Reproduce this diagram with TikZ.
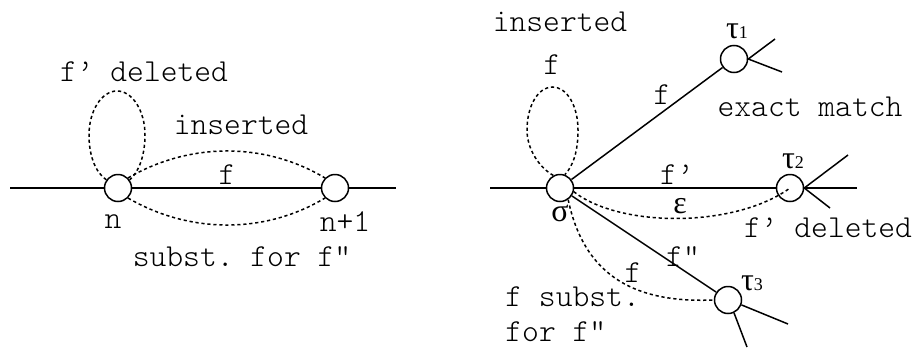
\documentclass[tikz,border=0pt]{standalone}
\usepackage{fontspec}
\usepackage{tikz}
\setmonofont{Latin Modern Mono Light}
\newfontfamily\greekfont{Liberation Serif}
\tikzset{
  vtx/.style={circle, draw, line width=.75pt, minimum size=13.5pt, inner sep=0pt},
  lbl/.style={font=\ttfamily\fontsize{16}{17.5}\selectfont, inner sep=0pt},
  grk/.style={font=\greekfont\fontsize{16}{18}\selectfont, inner sep=0pt},
  edge/.style={line width=.75pt},
  alt/.style={line width=.75pt, dash pattern=on 1.6pt off 1.4pt}
}
\newcommand{\idx}[1]{{\fontsize{9}{10}\selectfont #1}}

\begin{document}
\begin{tikzpicture}[x=.5pt,y=-.5pt]
\useasboundingbox (0,0) rectangle (913,348);
% left: one position n -> n+1
\node[vtx] (n) at (118,188) {};
\node[vtx] (n1) at (335,188) {};
\coordinate (la) at (10,188);
\coordinate (lb) at (396,188);
\draw[edge] (la) -- (n) -- (n1) -- (lb);
\draw[alt] (n.145) .. controls (95,172) and (89,155) .. (89,135)
  .. controls (89,111) and (101.5,91) .. (117,91)
  .. controls (132.5,91) and (145,111) .. (145,135)
  .. controls (145,155) and (139,172) .. (n.35);
\draw[alt] (n.north east) .. controls (190,142) and (265,142) .. (n1.north west);
\draw[alt] (n.south east) .. controls (190,234) and (265,234) .. (n1.south west);
\node[lbl] (ldel) at (144,72) {f’ deleted};
\node[lbl] (lins) at (241,125) {inserted};
\node[lbl] (lf) at (227,175) {f};
\node[lbl] (ln) at (113,222) {n};
\node[lbl] (ln1) at (345,222) {n+1};
\node[lbl] (lsub) at (242,257) {subst. for f"};

% right: sigma and its three continuations
\node[vtx] (s) at (560,188) {};
\node[vtx] (t1) at (734,59) {};
\node[vtx] (t2) at (790,188) {};
\node[vtx] (t3) at (728,300) {};
\coordinate (ra) at (490,188);
\coordinate (rb) at (857,188);
\coordinate (t1a) at (775,39);
\coordinate (t1b) at (782,72);
\coordinate (t2a) at (848,155);
\coordinate (t2b) at (830,208);
\coordinate (t3a) at (788,324);
\coordinate (t3b) at (747,347);
\draw[edge] (ra) -- (s) -- (t2) -- (rb);
\draw[edge] (s) -- (t1);
\draw[edge] (s) -- (t3);
\draw[edge] (t1a) -- (t1.east) -- (t1b);
\draw[edge] (t2a) -- (t2.east) -- (t2b);
\draw[edge] (t3.-20) -- (t3a);
\draw[edge] (t3.-65) -- (t3b);
\draw[alt] (s.118) .. controls (540,168) and (527,150) .. (527,130)
  .. controls (527,106) and (538,87) .. (552.5,87)
  .. controls (567,87) and (578,106) .. (578,130)
  .. controls (578,152) and (573,166) .. (s.70);
\draw[alt] (s.-15) .. controls (620,228) and (735,228) .. (t2.center);
\draw[alt] (s.-55) .. controls (585,280) and (640,303) .. (t3.west);
\node[lbl] (rins) at (560,22) {inserted};
\node[lbl] (rf0) at (552,65) {f};
\node[lbl] (rf1) at (662,95) {f};
\node[lbl] (rex) at (810,107) {exact match};
\node[lbl] (rf2) at (677,175) {f’};
\node[lbl] (rdel) at (828,228) {f’ deleted};
\node[lbl] (rf3) at (683,257) {f"};
\node[lbl] (rf4) at (633,273) {f};
\node[lbl, align=left, anchor=base west] (rsub) at (505,341) {f subst.\\for f"};
\node[grk] (ls) at (560,213) {σ};
\node[grk] (le) at (680,206) {ε};
\node[grk] (lt1) at (737,31) {τ\idx{1}};
\node[grk] (lt2) at (793,161) {τ\idx{2}};
\node[grk] (lt3) at (752,283) {τ\idx{3}};
\end{tikzpicture}
\end{document}
